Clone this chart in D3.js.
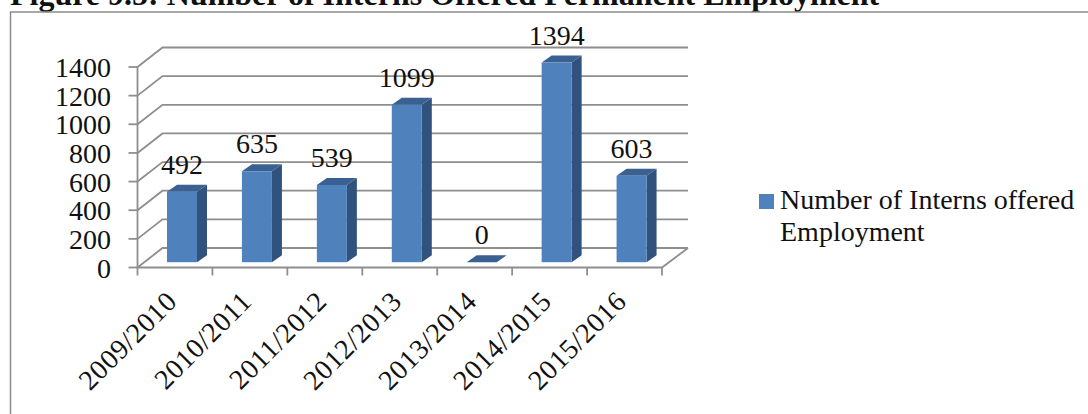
<!DOCTYPE html>
<html>
<head>
<meta charset="utf-8">
<script src="https://cdnjs.cloudflare.com/ajax/libs/d3/7.8.5/d3.min.js"></script>
<style>
  html, body { margin: 0; padding: 0; background: #fff; overflow: hidden; }
  text { font-family: "Liberation Serif", serif; fill: #111; }
</style>
</head>
<body>
<div id="chart"></div>
<script>
var titleText = "Figure 9.5: Number of Interns Offered Permanent Employment";
var years = ["2009/2010", "2010/2011", "2011/2012", "2012/2013", "2013/2014", "2014/2015", "2015/2016"];
var interns = [492, 635, 539, 1099, 0, 1394, 603];
var yTicks = [0, 200, 400, 600, 800, 1000, 1200, 1400];
var legendLines = ["Number of Interns offered", "Employment"];

var svg = d3.select("#chart").append("svg")
    .attr("width", 1088)
    .attr("height", 414);

var x = d3.scaleBand().domain(years).range([137.5, 662]);
var y = d3.scaleLinear().domain([0, 1400]).range([267.5, 67]);

var wall = {dx: 25, dy: -19.5};    // floor depth of the fake 3d box
var bar = {w: 30, off: 29.5, lift: 5.3, dx: 10, dy: -7};
var gridColor = "#8e8e8e";
var labelSize = 28;

svg.append("text")
    .attr("x", 10)
    .attr("y", 5)
    .attr("font-size", 32)
    .attr("font-weight", "bold")
    .attr("fill", "#000")
    .text(titleText);

// outer frame, only top and left show
svg.append("path")
    .attr("d", "M10.5,414V12H1088")
    .attr("fill", "none")
    .attr("stroke", "#8a8a8a")
    .attr("stroke-width", 1.5);

var grid = svg.append("g")
    .attr("fill", "none")
    .attr("stroke", gridColor)
    .attr("stroke-width", 1.8);

// gridlines run up the side wall then along the back wall
grid.selectAll("path")
  .data(yTicks)
  .enter().append("path")
    .attr("d", function(d) {
      return "M" + x.range()[0] + "," + y(d) + "l" + wall.dx + "," + wall.dy + "H" + (x.range()[1] + 26);
    });

// floor front edge and side edge
grid.append("path")
    .attr("d", "M" + x.range()[0] + "," + y(0) + "H" + x.range()[1] + "l" + (wall.dx + 1) + "," + wall.dy);

// left axis
grid.append("path")
    .attr("d", "M" + x.range()[0] + "," + y(1400) + "V" + (y(0) + 8));

grid.selectAll(".ytick")
  .data(yTicks)
  .enter().append("line")
    .attr("class", "ytick")
    .attr("x1", x.range()[0] - 9)
    .attr("x2", x.range()[0])
    .attr("y1", function(d) { return y(d); })
    .attr("y2", function(d) { return y(d); });

grid.selectAll(".xtick")
  .data(years)
  .enter().append("line")
    .attr("class", "xtick")
    .attr("x1", function(d) { return x(d) + x.bandwidth(); })
    .attr("x2", function(d) { return x(d) + x.bandwidth(); })
    .attr("y1", y(0))
    .attr("y2", y(0) + 8);

var bars = svg.append("g")
  .selectAll("g")
  .data(years)
  .enter().append("g")
    .attr("transform", function(d) { return "translate(" + (x(d) + bar.off) + "," + (-bar.lift) + ")"; });

function val(i) { return interns[i]; }

// right side
bars.append("path")
    .attr("fill", "#31527c")
    .attr("d", function(d, i) {
      return "M" + bar.w + "," + y(val(i)) + "l" + bar.dx + "," + bar.dy + "V" + (y(0) + bar.dy) + "l" + (-bar.dx) + "," + (-bar.dy) + "Z";
    });

// top
bars.append("path")
    .attr("fill", "#3a6191")
    .attr("d", function(d, i) {
      return "M0," + y(val(i)) + "l" + bar.dx + "," + bar.dy + "h" + bar.w + "l" + (-bar.dx) + "," + (-bar.dy) + "Z";
    });

// front
bars.append("rect")
    .attr("fill", "#4f81bd")
    .attr("width", bar.w)
    .attr("y", function(d, i) { return y(val(i)); })
    .attr("height", function(d, i) { return y(0) - y(val(i)); });

// value labels
svg.append("g")
  .selectAll("text")
  .data(years)
  .enter().append("text")
    .attr("x", function(d) { return x(d) + bar.off + 15; })
    .attr("y", function(d, i) { return y(val(i)) - bar.lift - 18; })
    .attr("text-anchor", "middle")
    .attr("font-size", labelSize)
    .text(function(d, i) { return interns[i]; });

// y tick labels
svg.append("g")
  .selectAll("text")
  .data(yTicks)
  .enter().append("text")
    .attr("x", 111)
    .attr("y", function(d) { return y(d) + 10; })
    .attr("text-anchor", "end")
    .attr("font-size", labelSize)
    .text(function(d) { return d; });

// x tick labels, rotated
svg.append("g")
  .selectAll("text")
  .data(years)
  .enter().append("text")
    .attr("text-anchor", "end")
    .attr("font-size", labelSize)
    .attr("letter-spacing", 0.6)
    .attr("transform", function(d) {
      return "translate(" + (x(d) + 41) + ",303) rotate(-45)";
    })
    .text(function(d) { return d; });

// legend
svg.append("rect")
    .attr("x", 759)
    .attr("y", 194)
    .attr("width", 15)
    .attr("height", 15)
    .attr("fill", "#4f81bd");

svg.append("g")
  .selectAll("text")
  .data(legendLines)
  .enter().append("text")
    .attr("x", 780)
    .attr("y", function(d, i) { return 209 + i * 31.5; })
    .attr("font-size", labelSize)
    .text(function(d) { return d; });
</script>
</body>
</html>
